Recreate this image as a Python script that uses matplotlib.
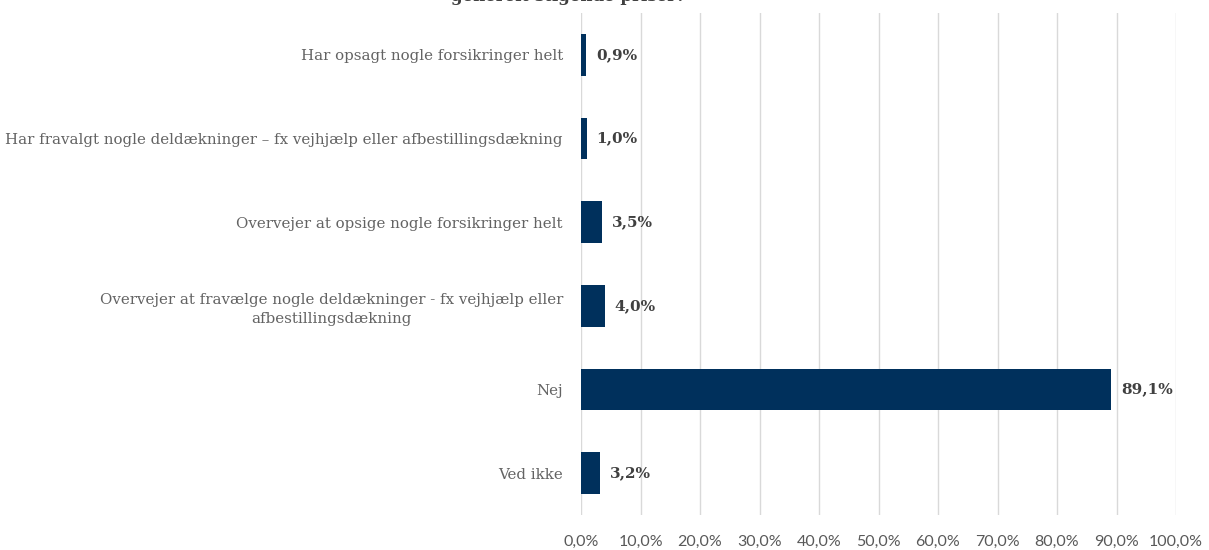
"""Recreate horizontal bar chart of insurance choices."""

import matplotlib

matplotlib.use("Agg")
import matplotlib.pyplot as plt
from matplotlib.ticker import FuncFormatter

categories = [
    "Har opsagt nogle forsikringer helt",
    "Har fravalgt nogle deldækninger – fx vejhjælp eller afbestillingsdækning",
    "Overvejer at opsige nogle forsikringer helt",
    "Overvejer at fravælge nogle deldækninger - fx vejhjælp eller\nafbestillingsdækning",
    "Nej",
    "Ved ikke",
]
values = [0.9, 1.0, 3.5, 4.0, 89.1, 3.2]
title_tail = "generelt stigende priser?"

BAR_COLOR = "#00305c"
SERIF = ["DejaVu Serif"]
SANS = ["Lato", "DejaVu Sans"]

fig = plt.figure(figsize=(12.09, 5.5), dpi=100)
ax = fig.add_axes([581 / 1209, 1 - 515 / 550, (1176 - 581) / 1209, (515 - 13) / 550])

y = list(range(len(categories)))
ax.barh(y, values, height=0.5, color=BAR_COLOR, zorder=3)
ax.set_ylim(len(categories) - 0.5, -0.5)
ax.set_xlim(0, 100)
ax.set_xticks(range(0, 101, 10))
ax.xaxis.set_major_formatter(FuncFormatter(lambda v, _: f"{v:.1f}%".replace(".", ",")))
ax.grid(axis="x", color="#d9d9d9", linewidth=1, zorder=0)
for s in ax.spines.values():
    s.set_visible(False)
ax.tick_params(axis="both", length=0)
ax.tick_params(axis="x", pad=14, labelsize=11.5, labelcolor="#595959")
for lab in ax.get_xticklabels():
    lab.set_family(SANS)

ax.set_yticks(y)
ax.set_yticklabels(categories, family=SERIF, fontsize=10.8, color="#636363")
ax.tick_params(axis="y", pad=13)
for lab in ax.get_yticklabels():
    lab.set_multialignment("center")
    lab.set_linespacing(1.45)

for yi, v in zip(y, values):
    ax.annotate(f"{v:.1f}%".replace(".", ","), (v, yi), xytext=(7, 0),
                textcoords="offset points", va="center", ha="left",
                family=SERIF, fontsize=11, fontweight="bold", color="#404040")

fig.text(568 / 1209, 1 - 1 / 550, title_tail, ha="center", va="baseline",
         family=SERIF, fontsize=12, fontweight="bold", color="#404040")

fig.savefig("out.png", dpi=100)
